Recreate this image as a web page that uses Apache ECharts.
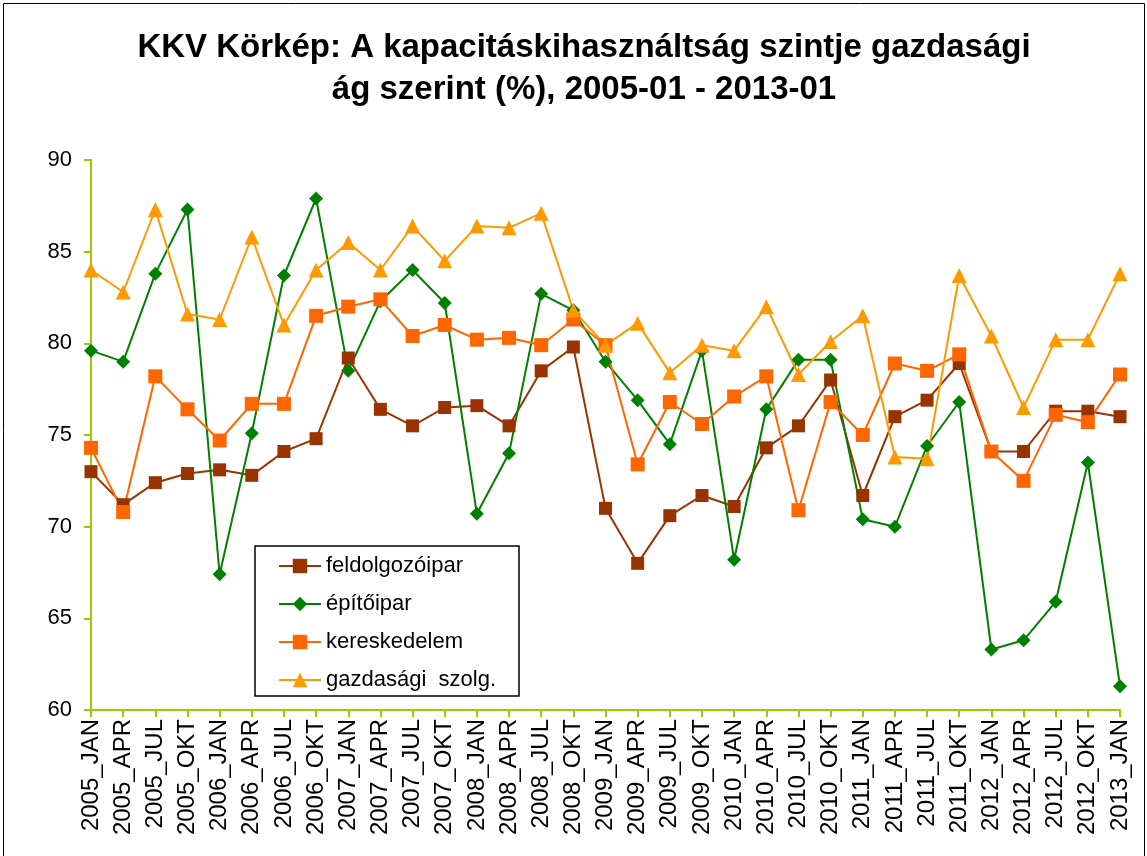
<!DOCTYPE html>
<html>
<head>
<meta charset="utf-8">
<script src="https://cdn.jsdelivr.net/npm/echarts@6/dist/echarts.min.js"></script>
<style>
html,body{margin:0;padding:0;background:#fff;}
#c{width:1147px;height:856px;}
</style>
</head>
<body>
<div id="c"></div>
<script>
const categories = ["2005_JAN","2005_APR","2005_JUL","2005_OKT","2006_JAN","2006_APR","2006_JUL","2006_OKT","2007_JAN","2007_APR","2007_JUL","2007_OKT","2008_JAN","2008_APR","2008_JUL","2008_OKT","2009_JAN","2009_APR","2009_JUL","2009_OKT","2010_JAN","2010_APR","2010_JUL","2010_OKT","2011_JAN","2011_APR","2011_JUL","2011_OKT","2012_JAN","2012_APR","2012_JUL","2012_OKT","2013_JAN"];
const feldolgozoipar = [73.0,71.2,72.4,72.9,73.1,72.8,74.1,74.8,79.2,76.4,75.5,76.5,76.6,75.5,78.5,79.8,71.0,68.0,70.6,71.7,71.1,74.3,75.5,78.0,71.7,76.0,76.9,78.9,74.1,74.1,76.3,76.3,76.0];
const epitoipar = [79.6,79.0,83.8,87.3,67.4,75.1,83.7,87.9,78.5,82.3,84.0,82.2,70.7,74.0,82.7,81.8,79.0,76.9,74.5,79.6,68.2,76.4,79.1,79.1,70.4,70.0,74.4,76.8,63.3,63.8,65.9,73.5,61.3];
const kereskedelem = [74.3,70.8,78.2,76.4,74.7,76.7,76.7,81.5,82.0,82.4,80.4,81.0,80.2,80.3,79.9,81.3,79.9,73.4,76.8,75.6,77.1,78.2,70.9,76.8,75.0,78.9,78.5,79.4,74.1,72.5,76.1,75.7,78.3];
const gazdasagiSzolg = [84.0,82.8,87.3,81.6,81.3,85.8,81.0,84.0,85.5,84.0,86.4,84.5,86.4,86.3,87.1,81.8,79.9,81.1,78.4,79.9,79.6,82.0,78.3,80.1,81.5,73.8,73.7,83.7,80.4,76.5,80.2,80.2,83.8];
const seriesNames = ["feldolgozóipar","építőipar","kereskedelem","gazdasági  szolg."];
const titleText = "KKV Körkép: A kapacitáskihasználtság szintje gazdasági\nág szerint (%), 2005-01 - 2013-01";

const FONT = "Liberation Sans, Arial, sans-serif";
const chart = echarts.init(document.getElementById('c'));
const axisGreen = '#99CC00';

function mk(name, data, color, symbol, size, width) {
  return {
    name, type: 'line', data, symbol, symbolSize: size,
    lineStyle: {color, width},
    itemStyle: {color},
    emphasis: {disabled: true},
    animation: false
  };
}

chart.setOption({
  backgroundColor: '#fff',
  animation: false,
  title: {
    text: titleText,
    left: 579, top: 22, textAlign: 'center',
    textStyle: {fontFamily: FONT, fontSize: 33, fontWeight: 'bold', color: '#000', lineHeight: 42}
  },
  graphic: [{
    type: 'rect', silent: true,
    shape: {x: 3.5, y: 3.5, width: 1141, height: 900},
    style: {fill: 'none', stroke: '#000', lineWidth: 1}
  }],
  legend: {
    left: 255, top: 546, orient: 'vertical',
    data: seriesNames,
    itemWidth: 42, itemHeight: 18, itemGap: 16,
    padding: [9, 23, 5, 23],
    borderColor: '#000', borderWidth: 1.5, backgroundColor: '#fff',
    textStyle: {fontFamily: FONT, fontSize: 22, color: '#000'}
  },
  grid: {left: 91, right: 27, top: 160, bottom: 146, containLabel: false},
  xAxis: {
    type: 'category', data: categories, boundaryGap: false,
    axisLine: {lineStyle: {color: axisGreen, width: 2}},
    axisTick: {show: true, length: 7, alignWithLabel: true, lineStyle: {color: axisGreen, width: 2}},
    axisLabel: {rotate: 90, interval: 0, margin: 9, fontFamily: FONT, fontSize: 24, color: '#000'},
    splitLine: {show: false}
  },
  yAxis: {
    type: 'value', min: 60, max: 90, interval: 5,
    axisLine: {show: true, lineStyle: {color: axisGreen, width: 2}},
    axisTick: {show: true, length: 7, lineStyle: {color: axisGreen, width: 2}},
    axisLabel: {margin: 19, fontFamily: FONT, fontSize: 22, color: '#000'},
    splitLine: {show: false}
  },
  series: [
    mk(seriesNames[0], feldolgozoipar, '#993300', 'rect', 13, 2),
    mk(seriesNames[1], epitoipar, '#008000', 'diamond', 14, 2),
    mk(seriesNames[2], kereskedelem, '#FF6600', 'rect', 14, 2),
    mk(seriesNames[3], gazdasagiSzolg, '#FF9900', 'triangle', 15, 2)
  ]
});
</script>
</body>
</html>
